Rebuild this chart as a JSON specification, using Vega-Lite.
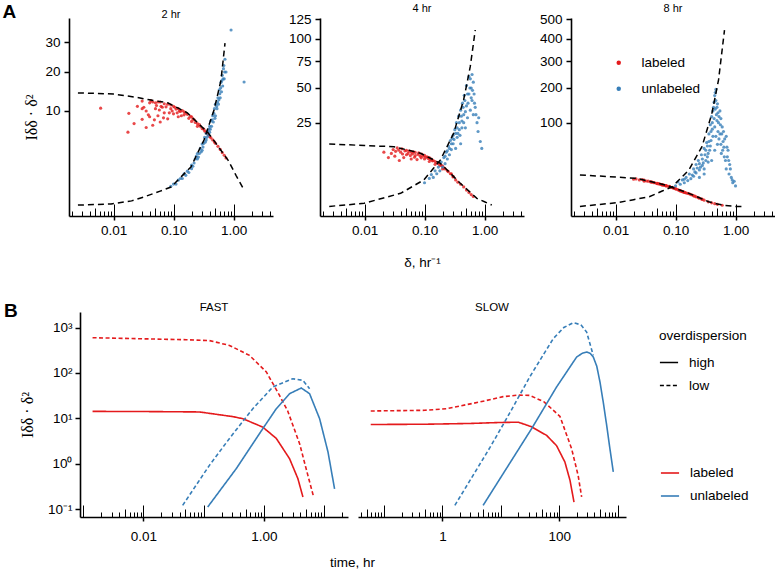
{
"$schema": "https://vega.github.io/schema/vega-lite/v6.json",
"background": "white",
"padding": {"left": 2, "top": 3, "right": 0, "bottom": 0},
"config": {
  "font": "Liberation Sans",
  "view": {"stroke": null},
  "axis": {"grid": false, "domainColor": "black", "tickColor": "black", "labelColor": "black", "titleColor": "black", "labelFont": "Liberation Sans", "titleFont": "Liberation Sans", "labelFontSize": 13.5, "titleFontSize": 13.5, "titleFontWeight": "normal"},
  "title": {"fontSize": 11, "fontWeight": "normal", "offset": -2, "color": "black", "font": "Liberation Sans"},
  "legend": {"labelFont": "Liberation Sans", "titleFont": "Liberation Sans", "labelColor": "black", "titleColor": "black", "labelFontSize": 13.5, "titleFontSize": 13.5, "titleFontWeight": "normal"}
},
"datasets": {
"pts2": [
{"g":"labeled","d":0.018,"v":9.5},{"g":"labeled","d":0.022,"v":7.5},{"g":"labeled","d":0.025,"v":11.0},{"g":"labeled","d":0.03,"v":8.3},{"g":"labeled","d":0.03,"v":12.2},{"g":"labeled","d":0.035,"v":10.0},{"g":"labeled","d":0.035,"v":6.8},{"g":"labeled","d":0.04,"v":11.8},{"g":"labeled","d":0.04,"v":8.8},{"g":"labeled","d":0.045,"v":12.0},{"g":"labeled","d":0.045,"v":7.2},{"g":"labeled","d":0.05,"v":10.5},{"g":"labeled","d":0.05,"v":11.8},{"g":"labeled","d":0.055,"v":9.0},{"g":"labeled","d":0.06,"v":12.0},{"g":"labeled","d":0.06,"v":7.8},{"g":"labeled","d":0.065,"v":10.8},{"g":"labeled","d":0.07,"v":11.6},{"g":"labeled","d":0.07,"v":9.6},{"g":"labeled","d":0.08,"v":11.5},{"g":"labeled","d":0.08,"v":8.4},{"g":"labeled","d":0.09,"v":10.5},{"g":"labeled","d":0.09,"v":11.3},{"g":"labeled","d":0.1,"v":9.4},{"g":"labeled","d":0.1,"v":11.0},{"g":"labeled","d":0.11,"v":10.4},{"g":"labeled","d":0.12,"v":10.5},{"g":"labeled","d":0.12,"v":8.8},{"g":"labeled","d":0.13,"v":9.9},{"g":"labeled","d":0.14,"v":10.1},{"g":"labeled","d":0.15,"v":9.2},{"g":"labeled","d":0.15,"v":9.8},{"g":"labeled","d":0.17,"v":9.3},{"g":"labeled","d":0.18,"v":8.5},{"g":"labeled","d":0.2,"v":8.8},{"g":"labeled","d":0.2,"v":7.9},{"g":"labeled","d":0.22,"v":8.2},{"g":"labeled","d":0.25,"v":7.5},{"g":"labeled","d":0.25,"v":7.0},{"g":"labeled","d":0.28,"v":7.0},{"g":"labeled","d":0.3,"v":6.6},{"g":"labeled","d":0.32,"v":6.5},{"g":"labeled","d":0.35,"v":6.0},{"g":"labeled","d":0.38,"v":5.6},{"g":"labeled","d":0.4,"v":5.3},{"g":"labeled","d":0.45,"v":4.8},{"g":"labeled","d":0.5,"v":4.3},{"g":"labeled","d":0.55,"v":3.9},{"g":"labeled","d":0.6,"v":3.5},{"g":"labeled","d":0.65,"v":3.1},{"g":"labeled","d":0.7,"v":2.8},{"g":"labeled","d":0.75,"v":2.5},{"g":"labeled","d":0.0061,"v":10.6},{"g":"labeled","d":0.0174,"v":6.0},
{"g":"labeled","d":0.032,"v":10.8},{"g":"labeled","d":0.038,"v":9.2},{"g":"labeled","d":0.042,"v":12.3},{"g":"labeled","d":0.048,"v":8.2},{"g":"labeled","d":0.052,"v":11.2},{"g":"labeled","d":0.058,"v":10.2},{"g":"labeled","d":0.062,"v":11.0},{"g":"labeled","d":0.068,"v":8.6},{"g":"labeled","d":0.075,"v":10.9},{"g":"labeled","d":0.085,"v":9.6},{"g":"labeled","d":0.095,"v":10.0},{"g":"labeled","d":0.105,"v":10.8},{"g":"labeled","d":0.115,"v":9.6},{"g":"labeled","d":0.125,"v":10.0},{"g":"labeled","d":0.135,"v":9.0},{"g":"labeled","d":0.16,"v":9.6},{"g":"labeled","d":0.19,"v":8.9},{"g":"labeled","d":0.21,"v":8.4},{"g":"labeled","d":0.23,"v":7.7},{"g":"labeled","d":0.27,"v":7.3},{"g":"labeled","d":0.33,"v":6.2},{"g":"labeled","d":0.36,"v":5.9},{"g":"labeled","d":0.42,"v":5.1},{"g":"labeled","d":0.48,"v":4.5},{"g":"labeled","d":0.03,"v":10.5},{"g":"labeled","d":0.055,"v":12.0},
{"g":"unlabeled","d":0.09,"v":0.4},{"g":"unlabeled","d":0.1,"v":0.5},{"g":"unlabeled","d":0.11,"v":0.5},{"g":"unlabeled","d":0.12,"v":0.7},{"g":"unlabeled","d":0.13,"v":0.8},{"g":"unlabeled","d":0.14,"v":0.8},{"g":"unlabeled","d":0.15,"v":1.1},{"g":"unlabeled","d":0.16,"v":1.0},{"g":"unlabeled","d":0.17,"v":1.3},{"g":"unlabeled","d":0.18,"v":1.2},{"g":"unlabeled","d":0.2,"v":1.8},{"g":"unlabeled","d":0.2,"v":1.5},{"g":"unlabeled","d":0.22,"v":2.0},{"g":"unlabeled","d":0.23,"v":2.4},{"g":"unlabeled","d":0.25,"v":2.4},{"g":"unlabeled","d":0.25,"v":3.0},{"g":"unlabeled","d":0.27,"v":3.0},{"g":"unlabeled","d":0.28,"v":3.6},{"g":"unlabeled","d":0.3,"v":3.4},{"g":"unlabeled","d":0.3,"v":4.2},{"g":"unlabeled","d":0.32,"v":4.3},{"g":"unlabeled","d":0.33,"v":5.2},{"g":"unlabeled","d":0.35,"v":4.8},{"g":"unlabeled","d":0.35,"v":5.8},{"g":"unlabeled","d":0.37,"v":6.2},{"g":"unlabeled","d":0.38,"v":5.5},{"g":"unlabeled","d":0.4,"v":7.0},{"g":"unlabeled","d":0.4,"v":6.0},{"g":"unlabeled","d":0.42,"v":8.0},{"g":"unlabeled","d":0.43,"v":7.0},{"g":"unlabeled","d":0.45,"v":9.0},{"g":"unlabeled","d":0.46,"v":7.8},{"g":"unlabeled","d":0.48,"v":10.5},{"g":"unlabeled","d":0.5,"v":9.0},{"g":"unlabeled","d":0.5,"v":11.5},{"g":"unlabeled","d":0.53,"v":10.5},{"g":"unlabeled","d":0.55,"v":13.0},{"g":"unlabeled","d":0.56,"v":11.5},{"g":"unlabeled","d":0.58,"v":15.0},{"g":"unlabeled","d":0.6,"v":13.0},{"g":"unlabeled","d":0.62,"v":17.0},{"g":"unlabeled","d":0.63,"v":14.5},{"g":"unlabeled","d":0.65,"v":19.0},{"g":"unlabeled","d":0.66,"v":16.0},{"g":"unlabeled","d":0.68,"v":21.0},{"g":"unlabeled","d":0.7,"v":18.0},{"g":"unlabeled","d":0.72,"v":24.0},{"g":"unlabeled","d":0.75,"v":20.0},{"g":"unlabeled","d":0.91,"v":34.6},{"g":"unlabeled","d":1.5,"v":17.1},
{"g":"unlabeled","d":0.21,"v":1.7},{"g":"unlabeled","d":0.24,"v":2.7},{"g":"unlabeled","d":0.26,"v":2.6},{"g":"unlabeled","d":0.29,"v":3.2},{"g":"unlabeled","d":0.31,"v":3.8},{"g":"unlabeled","d":0.34,"v":4.5},{"g":"unlabeled","d":0.36,"v":5.2},{"g":"unlabeled","d":0.39,"v":6.5},{"g":"unlabeled","d":0.41,"v":6.5},{"g":"unlabeled","d":0.44,"v":8.2},{"g":"unlabeled","d":0.47,"v":9.5},{"g":"unlabeled","d":0.49,"v":8.5},{"g":"unlabeled","d":0.52,"v":11.0},{"g":"unlabeled","d":0.54,"v":12.0},{"g":"unlabeled","d":0.57,"v":12.5},{"g":"unlabeled","d":0.59,"v":14.0},{"g":"unlabeled","d":0.61,"v":15.5},{"g":"unlabeled","d":0.64,"v":17.5},{"g":"unlabeled","d":0.67,"v":18.0},{"g":"unlabeled","d":0.69,"v":22.0},{"g":"unlabeled","d":0.71,"v":20.0}
],
"pts4": [
{"g":"labeled","d":0.021,"v":10.5},{"g":"labeled","d":0.025,"v":8.5},{"g":"labeled","d":0.03,"v":11.5},{"g":"labeled","d":0.032,"v":9.0},{"g":"labeled","d":0.035,"v":12.2},{"g":"labeled","d":0.038,"v":7.5},{"g":"labeled","d":0.04,"v":10.5},{"g":"labeled","d":0.042,"v":11.8},{"g":"labeled","d":0.045,"v":8.5},{"g":"labeled","d":0.05,"v":11.2},{"g":"labeled","d":0.05,"v":9.5},{"g":"labeled","d":0.055,"v":10.9},{"g":"labeled","d":0.06,"v":8.0},{"g":"labeled","d":0.06,"v":10.5},{"g":"labeled","d":0.065,"v":10.6},{"g":"labeled","d":0.07,"v":9.2},{"g":"labeled","d":0.07,"v":10.4},{"g":"labeled","d":0.075,"v":7.8},{"g":"labeled","d":0.08,"v":10.2},{"g":"labeled","d":0.085,"v":9.0},{"g":"labeled","d":0.09,"v":9.8},{"g":"labeled","d":0.1,"v":9.3},{"g":"labeled","d":0.1,"v":8.0},{"g":"labeled","d":0.11,"v":8.8},{"g":"labeled","d":0.12,"v":8.5},{"g":"labeled","d":0.12,"v":7.2},{"g":"labeled","d":0.13,"v":8.0},{"g":"labeled","d":0.14,"v":7.5},{"g":"labeled","d":0.15,"v":7.2},{"g":"labeled","d":0.15,"v":6.3},{"g":"labeled","d":0.17,"v":6.6},{"g":"labeled","d":0.18,"v":6.0},{"g":"labeled","d":0.2,"v":5.8},{"g":"labeled","d":0.2,"v":5.0},{"g":"labeled","d":0.22,"v":5.0},{"g":"labeled","d":0.25,"v":4.3},{"g":"labeled","d":0.28,"v":3.8},{"g":"labeled","d":0.3,"v":3.1},{"g":"labeled","d":0.33,"v":2.5},{"g":"labeled","d":0.36,"v":2.1},{"g":"labeled","d":0.4,"v":1.75},{"g":"labeled","d":0.45,"v":1.35},{"g":"labeled","d":0.5,"v":0.95},{"g":"labeled","d":0.55,"v":0.7},{"g":"labeled","d":0.6,"v":0.5},{"g":"labeled","d":0.65,"v":0.35},
{"g":"labeled","d":0.028,"v":10.0},{"g":"labeled","d":0.033,"v":10.8},{"g":"labeled","d":0.037,"v":11.3},{"g":"labeled","d":0.043,"v":9.8},{"g":"labeled","d":0.047,"v":11.0},{"g":"labeled","d":0.053,"v":10.0},{"g":"labeled","d":0.058,"v":9.2},{"g":"labeled","d":0.063,"v":9.8},{"g":"labeled","d":0.068,"v":8.6},{"g":"labeled","d":0.078,"v":9.6},{"g":"labeled","d":0.088,"v":8.4},{"g":"labeled","d":0.095,"v":9.0},{"g":"labeled","d":0.105,"v":8.6},{"g":"labeled","d":0.115,"v":8.2},{"g":"labeled","d":0.125,"v":7.8},{"g":"labeled","d":0.135,"v":7.4},{"g":"labeled","d":0.16,"v":6.8},{"g":"labeled","d":0.19,"v":6.0},{"g":"labeled","d":0.21,"v":5.3},{"g":"labeled","d":0.24,"v":4.5},{"g":"labeled","d":0.27,"v":3.8},{"g":"labeled","d":0.3,"v":3.2},
{"g":"unlabeled","d":0.1,"v":2.0},{"g":"unlabeled","d":0.12,"v":2.8},{"g":"unlabeled","d":0.13,"v":3.6},{"g":"unlabeled","d":0.14,"v":3.0},{"g":"unlabeled","d":0.15,"v":4.5},{"g":"unlabeled","d":0.16,"v":3.8},{"g":"unlabeled","d":0.17,"v":5.5},{"g":"unlabeled","d":0.18,"v":4.5},{"g":"unlabeled","d":0.19,"v":7.0},{"g":"unlabeled","d":0.2,"v":5.5},{"g":"unlabeled","d":0.21,"v":8.5},{"g":"unlabeled","d":0.22,"v":6.5},{"g":"unlabeled","d":0.23,"v":10.5},{"g":"unlabeled","d":0.24,"v":8.0},{"g":"unlabeled","d":0.25,"v":13.0},{"g":"unlabeled","d":0.26,"v":9.5},{"g":"unlabeled","d":0.27,"v":15.5},{"g":"unlabeled","d":0.28,"v":11.5},{"g":"unlabeled","d":0.3,"v":18.0},{"g":"unlabeled","d":0.3,"v":14.0},{"g":"unlabeled","d":0.32,"v":21.0},{"g":"unlabeled","d":0.33,"v":12.0},{"g":"unlabeled","d":0.34,"v":25.0},{"g":"unlabeled","d":0.35,"v":17.0},{"g":"unlabeled","d":0.37,"v":29.0},{"g":"unlabeled","d":0.38,"v":21.0},{"g":"unlabeled","d":0.4,"v":33.0},{"g":"unlabeled","d":0.4,"v":14.0},{"g":"unlabeled","d":0.42,"v":26.0},{"g":"unlabeled","d":0.43,"v":38.0},{"g":"unlabeled","d":0.45,"v":30.0},{"g":"unlabeled","d":0.46,"v":44.0},{"g":"unlabeled","d":0.48,"v":22.0},{"g":"unlabeled","d":0.5,"v":36.0},{"g":"unlabeled","d":0.5,"v":52.0},{"g":"unlabeled","d":0.52,"v":28.0},{"g":"unlabeled","d":0.55,"v":45.0},{"g":"unlabeled","d":0.55,"v":60.0},{"g":"unlabeled","d":0.58,"v":33.0},{"g":"unlabeled","d":0.6,"v":50.0},{"g":"unlabeled","d":0.62,"v":40.0},{"g":"unlabeled","d":0.65,"v":30.0},{"g":"unlabeled","d":0.65,"v":55.0},{"g":"unlabeled","d":0.7,"v":35.0},{"g":"unlabeled","d":0.75,"v":25.0},{"g":"unlabeled","d":0.85,"v":15.0},
{"g":"unlabeled","d":0.22,"v":9.0},{"g":"unlabeled","d":0.24,"v":11.0},{"g":"unlabeled","d":0.26,"v":12.0},{"g":"unlabeled","d":0.28,"v":14.0},{"g":"unlabeled","d":0.29,"v":16.5},{"g":"unlabeled","d":0.31,"v":16.0},{"g":"unlabeled","d":0.33,"v":19.0},{"g":"unlabeled","d":0.35,"v":22.0},{"g":"unlabeled","d":0.36,"v":19.0},{"g":"unlabeled","d":0.38,"v":25.0},{"g":"unlabeled","d":0.39,"v":18.0},{"g":"unlabeled","d":0.41,"v":29.0},{"g":"unlabeled","d":0.42,"v":22.0},{"g":"unlabeled","d":0.44,"v":35.0},{"g":"unlabeled","d":0.45,"v":25.0},{"g":"unlabeled","d":0.47,"v":40.0},{"g":"unlabeled","d":0.48,"v":32.0},{"g":"unlabeled","d":0.52,"v":45.0},{"g":"unlabeled","d":0.53,"v":38.0},{"g":"unlabeled","d":0.57,"v":50.0},{"g":"unlabeled","d":0.58,"v":58.0},{"g":"unlabeled","d":0.6,"v":42.0},{"g":"unlabeled","d":0.62,"v":62.0},{"g":"unlabeled","d":0.63,"v":48.0},{"g":"unlabeled","d":0.67,"v":45.0},{"g":"unlabeled","d":0.68,"v":38.0},{"g":"unlabeled","d":0.72,"v":30.0},{"g":"unlabeled","d":0.78,"v":20.0},{"g":"unlabeled","d":0.8,"v":28.0},{"g":"unlabeled","d":0.9,"v":12.0}
],
"pts8": [
{"g":"labeled","d":0.02,"v":10.5},{"g":"labeled","d":0.025,"v":10.0},{"g":"labeled","d":0.03,"v":9.0},{"g":"labeled","d":0.03,"v":9.8},{"g":"labeled","d":0.035,"v":9.1},{"g":"labeled","d":0.04,"v":8.3},{"g":"labeled","d":0.04,"v":8.6},{"g":"labeled","d":0.045,"v":8.0},{"g":"labeled","d":0.05,"v":7.6},{"g":"labeled","d":0.05,"v":7.4},{"g":"labeled","d":0.055,"v":7.1},{"g":"labeled","d":0.06,"v":6.8},{"g":"labeled","d":0.06,"v":6.5},{"g":"labeled","d":0.065,"v":6.4},{"g":"labeled","d":0.07,"v":6.2},{"g":"labeled","d":0.07,"v":6.0},{"g":"labeled","d":0.08,"v":5.5},{"g":"labeled","d":0.08,"v":5.7},{"g":"labeled","d":0.09,"v":4.9},{"g":"labeled","d":0.09,"v":5.1},{"g":"labeled","d":0.1,"v":4.4},{"g":"labeled","d":0.1,"v":4.5},{"g":"labeled","d":0.11,"v":3.9},{"g":"labeled","d":0.12,"v":3.4},{"g":"labeled","d":0.12,"v":3.5},{"g":"labeled","d":0.13,"v":3.1},{"g":"labeled","d":0.14,"v":2.8},{"g":"labeled","d":0.15,"v":2.55},{"g":"labeled","d":0.16,"v":2.4},{"g":"labeled","d":0.18,"v":2.0},{"g":"labeled","d":0.2,"v":1.6},{"g":"labeled","d":0.22,"v":1.3},{"g":"labeled","d":0.25,"v":0.95},{"g":"labeled","d":0.28,"v":0.7},{"g":"labeled","d":0.3,"v":0.55},{"g":"labeled","d":0.35,"v":0.3},{"g":"labeled","d":0.4,"v":0.18},{"g":"labeled","d":0.45,"v":0.11},{"g":"labeled","d":0.5,"v":0.06},{"g":"labeled","d":0.6,"v":0.02},
{"g":"labeled","d":0.022,"v":10.8},{"g":"labeled","d":0.028,"v":10.3},{"g":"labeled","d":0.033,"v":9.2},{"g":"labeled","d":0.038,"v":8.6},{"g":"labeled","d":0.043,"v":8.1},{"g":"labeled","d":0.048,"v":7.6},{"g":"labeled","d":0.053,"v":7.2},{"g":"labeled","d":0.058,"v":6.8},{"g":"labeled","d":0.063,"v":6.5},{"g":"labeled","d":0.068,"v":6.2},{"g":"labeled","d":0.075,"v":5.8},{"g":"labeled","d":0.085,"v":5.1},{"g":"labeled","d":0.095,"v":4.6},{"g":"labeled","d":0.105,"v":4.2},{"g":"labeled","d":0.115,"v":3.7},{"g":"labeled","d":0.125,"v":3.35},{"g":"labeled","d":0.135,"v":3.0},{"g":"labeled","d":0.145,"v":2.75},{"g":"labeled","d":0.17,"v":2.25},{"g":"labeled","d":0.19,"v":1.85},{"g":"labeled","d":0.21,"v":1.5},{"g":"labeled","d":0.24,"v":1.1},{"g":"labeled","d":0.27,"v":0.8},
{"g":"unlabeled","d":0.1,"v":6.0},{"g":"unlabeled","d":0.11,"v":8.5},{"g":"unlabeled","d":0.12,"v":7.0},{"g":"unlabeled","d":0.13,"v":10.0},{"g":"unlabeled","d":0.14,"v":8.0},{"g":"unlabeled","d":0.15,"v":12.0},{"g":"unlabeled","d":0.16,"v":9.5},{"g":"unlabeled","d":0.17,"v":15.0},{"g":"unlabeled","d":0.18,"v":11.0},{"g":"unlabeled","d":0.2,"v":20.0},{"g":"unlabeled","d":0.2,"v":13.0},{"g":"unlabeled","d":0.22,"v":25.0},{"g":"unlabeled","d":0.22,"v":16.0},{"g":"unlabeled","d":0.24,"v":30.0},{"g":"unlabeled","d":0.25,"v":19.0},{"g":"unlabeled","d":0.27,"v":38.0},{"g":"unlabeled","d":0.28,"v":24.0},{"g":"unlabeled","d":0.3,"v":48.0},{"g":"unlabeled","d":0.3,"v":15.0},{"g":"unlabeled","d":0.32,"v":30.0},{"g":"unlabeled","d":0.33,"v":58.0},{"g":"unlabeled","d":0.35,"v":40.0},{"g":"unlabeled","d":0.36,"v":75.0},{"g":"unlabeled","d":0.38,"v":52.0},{"g":"unlabeled","d":0.38,"v":95.0},{"g":"unlabeled","d":0.4,"v":30.0},{"g":"unlabeled","d":0.4,"v":115.0},{"g":"unlabeled","d":0.42,"v":70.0},{"g":"unlabeled","d":0.43,"v":140.0},{"g":"unlabeled","d":0.45,"v":90.0},{"g":"unlabeled","d":0.45,"v":175.0},{"g":"unlabeled","d":0.47,"v":195.0},{"g":"unlabeled","d":0.48,"v":120.0},{"g":"unlabeled","d":0.5,"v":55.0},{"g":"unlabeled","d":0.5,"v":150.0},{"g":"unlabeled","d":0.52,"v":100.0},{"g":"unlabeled","d":0.55,"v":75.0},{"g":"unlabeled","d":0.55,"v":130.0},{"g":"unlabeled","d":0.58,"v":40.0},{"g":"unlabeled","d":0.6,"v":90.0},{"g":"unlabeled","d":0.62,"v":60.0},{"g":"unlabeled","d":0.65,"v":35.0},{"g":"unlabeled","d":0.7,"v":70.0},{"g":"unlabeled","d":0.7,"v":20.0},{"g":"unlabeled","d":0.75,"v":45.0},{"g":"unlabeled","d":0.8,"v":25.0},{"g":"unlabeled","d":0.85,"v":12.0},{"g":"unlabeled","d":0.9,"v":8.0},{"g":"unlabeled","d":1.0,"v":6.0},
{"g":"unlabeled","d":0.14,"v":10.5},{"g":"unlabeled","d":0.19,"v":14.0},{"g":"unlabeled","d":0.21,"v":17.0},{"g":"unlabeled","d":0.23,"v":21.0},{"g":"unlabeled","d":0.25,"v":26.0},{"g":"unlabeled","d":0.26,"v":22.0},{"g":"unlabeled","d":0.28,"v":32.0},{"g":"unlabeled","d":0.29,"v":27.0},{"g":"unlabeled","d":0.31,"v":38.0},{"g":"unlabeled","d":0.32,"v":45.0},{"g":"unlabeled","d":0.34,"v":52.0},{"g":"unlabeled","d":0.34,"v":35.0},{"g":"unlabeled","d":0.36,"v":60.0},{"g":"unlabeled","d":0.37,"v":45.0},{"g":"unlabeled","d":0.39,"v":80.0},{"g":"unlabeled","d":0.39,"v":62.0},{"g":"unlabeled","d":0.41,"v":100.0},{"g":"unlabeled","d":0.41,"v":85.0},{"g":"unlabeled","d":0.42,"v":130.0},{"g":"unlabeled","d":0.44,"v":110.0},{"g":"unlabeled","d":0.44,"v":155.0},{"g":"unlabeled","d":0.46,"v":135.0},{"g":"unlabeled","d":0.46,"v":185.0},{"g":"unlabeled","d":0.47,"v":160.0},{"g":"unlabeled","d":0.49,"v":140.0},{"g":"unlabeled","d":0.49,"v":105.0},{"g":"unlabeled","d":0.51,"v":125.0},{"g":"unlabeled","d":0.51,"v":80.0},{"g":"unlabeled","d":0.53,"v":115.0},{"g":"unlabeled","d":0.53,"v":65.0},{"g":"unlabeled","d":0.56,"v":95.0},{"g":"unlabeled","d":0.57,"v":110.0},{"g":"unlabeled","d":0.57,"v":55.0},{"g":"unlabeled","d":0.59,"v":75.0},{"g":"unlabeled","d":0.61,"v":45.0},{"g":"unlabeled","d":0.63,"v":80.0},{"g":"unlabeled","d":0.64,"v":50.0},{"g":"unlabeled","d":0.66,"v":65.0},{"g":"unlabeled","d":0.68,"v":30.0},{"g":"unlabeled","d":0.72,"v":50.0},{"g":"unlabeled","d":0.73,"v":35.0},{"g":"unlabeled","d":0.77,"v":30.0},{"g":"unlabeled","d":0.78,"v":15.0},{"g":"unlabeled","d":0.82,"v":20.0},{"g":"unlabeled","d":0.88,"v":10.0},{"g":"unlabeled","d":0.95,"v":9.0},{"g":"unlabeled","d":0.25,"v":12.0},{"g":"unlabeled","d":0.3,"v":20.0},{"g":"unlabeled","d":0.35,"v":28.0},{"g":"unlabeled","d":0.45,"v":45.0},{"g":"unlabeled","d":0.47,"v":70.0}
],
"c2": [
{"g":"labeled","d":0.00255,"v":14.2},{"g":"labeled","d":0.005,"v":14.1},{"g":"labeled","d":0.01,"v":13.9},{"g":"labeled","d":0.022,"v":13.2},{"g":"labeled","d":0.04,"v":12.5},{"g":"labeled","d":0.08,"v":11.8},{"g":"labeled","d":0.12,"v":10.6},{"g":"labeled","d":0.17,"v":9.6},{"g":"labeled","d":0.25,"v":7.7},{"g":"labeled","d":0.376,"v":5.9},{"g":"labeled","d":0.5,"v":4.4},{"g":"labeled","d":0.65,"v":3.15},{"g":"labeled","d":0.81,"v":2.29},{"g":"labeled","d":1.1,"v":1.0},{"g":"labeled","d":1.5,"v":0.26},
{"g":"unlabeled","d":0.00255,"v":0},{"g":"unlabeled","d":0.0091,"v":0.0015},{"g":"unlabeled","d":0.02,"v":0.02},{"g":"unlabeled","d":0.032,"v":0.074},{"g":"unlabeled","d":0.06,"v":0.22},{"g":"unlabeled","d":0.091,"v":0.37},{"g":"unlabeled","d":0.14,"v":0.98},{"g":"unlabeled","d":0.195,"v":1.64},{"g":"unlabeled","d":0.26,"v":3.25},{"g":"unlabeled","d":0.322,"v":4.78},{"g":"unlabeled","d":0.4,"v":7.6},{"g":"unlabeled","d":0.473,"v":10.2},{"g":"unlabeled","d":0.55,"v":14.1},{"g":"unlabeled","d":0.618,"v":17.6},{"g":"unlabeled","d":0.67,"v":23.5},{"g":"unlabeled","d":0.721,"v":29.6}
],
"c4": [
{"g":"labeled","d":0.00258,"v":13.9},{"g":"labeled","d":0.01,"v":13.2},{"g":"labeled","d":0.0309,"v":12.7},{"g":"labeled","d":0.055,"v":11.2},{"g":"labeled","d":0.0857,"v":10.05},{"g":"labeled","d":0.13,"v":8.1},{"g":"labeled","d":0.184,"v":6.6},{"g":"labeled","d":0.27,"v":3.9},{"g":"labeled","d":0.394,"v":1.9},{"g":"labeled","d":0.55,"v":0.83},{"g":"labeled","d":0.746,"v":0.23},{"g":"labeled","d":1.0,"v":0.076},{"g":"labeled","d":1.32,"v":0.007},
{"g":"unlabeled","d":0.00258,"v":0},{"g":"unlabeled","d":0.00984,"v":0.034},{"g":"unlabeled","d":0.02,"v":0.24},{"g":"unlabeled","d":0.0399,"v":0.61},{"g":"unlabeled","d":0.0973,"v":2.5},{"g":"unlabeled","d":0.14,"v":5.1},{"g":"unlabeled","d":0.184,"v":7.7},{"g":"unlabeled","d":0.24,"v":13},{"g":"unlabeled","d":0.305,"v":19},{"g":"unlabeled","d":0.37,"v":28.7},{"g":"unlabeled","d":0.448,"v":40.4},{"g":"unlabeled","d":0.51,"v":54},{"g":"unlabeled","d":0.578,"v":69.6},{"g":"unlabeled","d":0.64,"v":90},{"g":"unlabeled","d":0.70,"v":110.9}
],
"c8": [
{"g":"labeled","d":0.00255,"v":14.1},{"g":"labeled","d":0.008,"v":12.6},{"g":"labeled","d":0.022,"v":11.3},{"g":"labeled","d":0.04,"v":8.6},{"g":"labeled","d":0.0687,"v":6.5},{"g":"labeled","d":0.11,"v":4.1},{"g":"labeled","d":0.167,"v":2.44},{"g":"labeled","d":0.25,"v":1.06},{"g":"labeled","d":0.356,"v":0.31},{"g":"labeled","d":0.5,"v":0.08},{"g":"labeled","d":0.671,"v":0.01},{"g":"labeled","d":1.0,"v":0.0},{"g":"labeled","d":1.35,"v":0.0},
{"g":"unlabeled","d":0.00255,"v":0},{"g":"unlabeled","d":0.0107,"v":0.2},{"g":"unlabeled","d":0.02,"v":0.65},{"g":"unlabeled","d":0.0365,"v":1.34},{"g":"unlabeled","d":0.06,"v":3.36},{"g":"unlabeled","d":0.0883,"v":5.5},{"g":"unlabeled","d":0.125,"v":11.8},{"g":"unlabeled","d":0.167,"v":18.9},{"g":"unlabeled","d":0.22,"v":34.6},{"g":"unlabeled","d":0.276,"v":50.8},{"g":"unlabeled","d":0.34,"v":86.5},{"g":"unlabeled","d":0.404,"v":123.6},{"g":"unlabeled","d":0.46,"v":172.7},{"g":"unlabeled","d":0.521,"v":228},{"g":"unlabeled","d":0.59,"v":336},{"g":"unlabeled","d":0.655,"v":443}
],
"fast": [
{"g":"labeled","o":"high","t":0.00144,"v":14.2},{"g":"labeled","o":"high","t":0.01,"v":14.1},{"g":"labeled","o":"high","t":0.0855,"v":13.8},{"g":"labeled","o":"high","t":0.305,"v":10.9},{"g":"labeled","o":"high","t":0.448,"v":9.8},{"g":"labeled","o":"high","t":0.96,"v":6.4},{"g":"labeled","o":"high","t":1.61,"v":3.6},{"g":"labeled","o":"high","t":2.67,"v":1.29},{"g":"labeled","o":"high","t":3.67,"v":0.47},{"g":"labeled","o":"high","t":4.45,"v":0.185},
{"g":"labeled","o":"low","t":0.00144,"v":596},{"g":"labeled","o":"low","t":0.0514,"v":538},{"g":"labeled","o":"low","t":0.125,"v":515},{"g":"labeled","o":"low","t":0.269,"v":403},{"g":"labeled","o":"low","t":0.578,"v":243},{"g":"labeled","o":"low","t":1.1,"v":105},{"g":"labeled","o":"low","t":1.82,"v":31.9},{"g":"labeled","o":"low","t":2.48,"v":14.7},{"g":"labeled","o":"low","t":3.92,"v":2.76},{"g":"labeled","o":"low","t":5.38,"v":0.552},{"g":"labeled","o":"low","t":6.7,"v":0.185},
{"g":"unlabeled","o":"high","t":0.117,"v":0.111},{"g":"unlabeled","o":"high","t":0.348,"v":0.776},{"g":"unlabeled","o":"high","t":0.96,"v":5.9},{"g":"unlabeled","o":"high","t":1.61,"v":16.3},{"g":"unlabeled","o":"high","t":2.67,"v":34.8},{"g":"unlabeled","o":"high","t":4.18,"v":46.5},{"g":"unlabeled","o":"high","t":5.74,"v":34.8},{"g":"unlabeled","o":"high","t":8.42,"v":9.8},{"g":"unlabeled","o":"high","t":11.6,"v":1.81},{"g":"unlabeled","o":"high","t":14.9,"v":0.28},
{"g":"unlabeled","o":"low","t":0.045,"v":0.121},{"g":"unlabeled","o":"low","t":0.125,"v":0.92},{"g":"unlabeled","o":"low","t":0.269,"v":3.6},{"g":"unlabeled","o":"low","t":0.656,"v":16.3},{"g":"unlabeled","o":"low","t":1.41,"v":48.9},{"g":"unlabeled","o":"low","t":3.03,"v":74.5},{"g":"unlabeled","o":"low","t":4.45,"v":68.4},{"g":"unlabeled","o":"low","t":5.74,"v":44.9}
],
"slow": [
{"g":"labeled","o":"high","t":0.059,"v":7.3},{"g":"labeled","o":"high","t":0.5,"v":7.4},{"g":"labeled","o":"high","t":3,"v":7.7},{"g":"labeled","o":"high","t":10,"v":8.1},{"g":"labeled","o":"high","t":20,"v":8.2},{"g":"labeled","o":"high","t":33.6,"v":6.5},{"g":"labeled","o":"high","t":60.8,"v":4.2},{"g":"labeled","o":"high","t":90,"v":2.5},{"g":"labeled","o":"high","t":125,"v":1.09},{"g":"labeled","o":"high","t":153,"v":0.43},{"g":"labeled","o":"high","t":179,"v":0.143},
{"g":"labeled","o":"low","t":0.059,"v":14.5},{"g":"labeled","o":"low","t":0.5,"v":15.0},{"g":"labeled","o":"low","t":1.17,"v":16.3},{"g":"labeled","o":"low","t":4.36,"v":22.9},{"g":"labeled","o":"low","t":10.9,"v":30},{"g":"labeled","o":"low","t":20,"v":32.5},{"g":"labeled","o":"low","t":31.4,"v":31.9},{"g":"labeled","o":"low","t":55,"v":23},{"g":"labeled","o":"low","t":103,"v":11},{"g":"labeled","o":"low","t":163,"v":2.14},{"g":"labeled","o":"low","t":211,"v":0.55},{"g":"labeled","o":"low","t":242,"v":0.185},
{"g":"unlabeled","o":"high","t":4.97,"v":0.121},{"g":"unlabeled","o":"high","t":33.6,"v":5.9},{"g":"unlabeled","o":"high","t":90,"v":48.9},{"g":"unlabeled","o":"high","t":199,"v":224},{"g":"unlabeled","o":"high","t":250,"v":272},{"g":"unlabeled","o":"high","t":295,"v":289},{"g":"unlabeled","o":"high","t":340,"v":270},{"g":"unlabeled","o":"high","t":383,"v":224},{"g":"unlabeled","o":"high","t":440,"v":140},{"g":"unlabeled","o":"high","t":499,"v":63},{"g":"unlabeled","o":"high","t":570,"v":22},{"g":"unlabeled","o":"high","t":650,"v":7.0},{"g":"unlabeled","o":"high","t":744,"v":2.0},{"g":"unlabeled","o":"high","t":844,"v":0.66},
{"g":"unlabeled","o":"low","t":1.63,"v":0.121},{"g":"unlabeled","o":"low","t":6.48,"v":2.25},{"g":"unlabeled","o":"low","t":14.3,"v":13.3},{"g":"unlabeled","o":"low","t":31.4,"v":82.5},{"g":"unlabeled","o":"low","t":78.9,"v":567},{"g":"unlabeled","o":"low","t":120,"v":1000},{"g":"unlabeled","o":"low","t":174,"v":1276},{"g":"unlabeled","o":"low","t":235,"v":1150},{"g":"unlabeled","o":"low","t":295,"v":795},{"g":"unlabeled","o":"low","t":383,"v":243}
]
},
"concat": [
{
 "title": {"text": "A", "orient": "left", "anchor": "end", "angle": 0, "align": "right", "baseline": "top", "fontSize": 19, "fontWeight": "bold", "offset": -7, "frame": "bounds"},
 "spacing": 47,
 "bounds": "flush",
 "resolve": {"legend": {"color": "independent"}},
 "hconcat": [
  {
   "width": 204, "height": 198,
   "title": {"text": "2 hr"},
   "resolve": {"axis": {"x": "independent"}},
   "layer": [
    {
     "data": {"name": "pts2"},
     "mark": {"type": "circle", "size": 10, "opacity": 0.8},
     "encoding": {
      "x": {"field": "d", "type": "quantitative", "scale": {"type": "log", "domain": [0.00181, 4.55], "nice": false}, "axis": {"orient": "bottom", "values": [0.01, 0.1, 1], "labelExpr": "format(datum.value, '.2f')", "tickSize": 4, "tickWidth": 1.5, "labelPadding": 3, "domainWidth": 1.6, "title": null}},
      "y": {"field": "v", "type": "quantitative", "scale": {"type": "sqrt", "domain": [-0.134, 39.5], "nice": false, "zero": false}, "axis": {"values": [10, 20, 30], "tickSize": 5, "tickWidth": 1.5, "labelPadding": 4, "domainWidth": 1.6, "title": "Iδδ · δ²", "titleFont": "Liberation Serif", "titleFontSize": 16, "titleX": -30, "titleY": 99}},
      "color": {"field": "g", "type": "nominal", "scale": {"domain": ["labeled", "unlabeled"], "range": ["#E41A1C", "#377EB8"]}, "legend": null}
     }
    },
    {
     "data": {"name": "c2"},
     "mark": {"type": "line", "color": "black", "strokeDash": [6, 4], "strokeWidth": 1.5},
     "encoding": {
      "x": {"field": "d", "type": "quantitative", "scale": {"type": "log", "domain": [0.00181, 4.55], "nice": false}, "axis": {"orient": "bottom", "values": [0.002,0.003,0.004,0.005,0.006,0.007,0.008,0.009,0.01,0.02,0.03,0.04,0.05,0.06,0.07,0.08,0.09,0.1,0.2,0.3,0.4,0.5,0.6,0.7,0.8,0.9,1,2,3,4], "labels": false, "domain": false, "title": null, "tickWidth": 1, "tickSize": {"expr": "indexof([0.001,0.01,0.1,1,10,100,1000], datum.value) >= 0 ? -12 : (indexof([0.005,0.05,0.5,5,50,500], datum.value) >= 0 ? -8 : -5)"}}},
      "y": {"field": "v", "type": "quantitative", "scale": {"type": "sqrt", "domain": [-0.134, 39.5], "nice": false, "zero": false}, "axis": {"values": [10, 20, 30], "tickSize": 5, "tickWidth": 1.5, "labelPadding": 4, "domainWidth": 1.6, "title": "Iδδ · δ²", "titleFont": "Liberation Serif", "titleFontSize": 16, "titleX": -30, "titleY": 99}},
      "detail": {"field": "g"}
     }
    }
   ]
  },
  {
   "width": 204, "height": 198,
   "title": {"text": "4 hr"},
   "resolve": {"axis": {"x": "independent"}},
   "layer": [
    {
     "data": {"name": "pts4"},
     "mark": {"type": "circle", "size": 10, "opacity": 0.8},
     "encoding": {
      "x": {"field": "d", "type": "quantitative", "scale": {"type": "log", "domain": [0.00181, 4.55], "nice": false}, "axis": {"orient": "bottom", "values": [0.01, 0.1, 1], "labelExpr": "format(datum.value, '.2f')", "tickSize": 4, "tickWidth": 1.5, "labelPadding": 3, "domainWidth": 1.6, "title": "δ, hr⁻¹", "titlePadding": 19}},
      "y": {"field": "v", "type": "quantitative", "scale": {"type": "sqrt", "domain": [-0.328, 126.5], "nice": false, "zero": false}, "axis": {"values": [25, 50, 75, 100, 125], "tickSize": 5, "tickWidth": 1.5, "labelPadding": 4, "domainWidth": 1.6, "title": null}},
      "color": {"field": "g", "type": "nominal", "scale": {"domain": ["labeled", "unlabeled"], "range": ["#E41A1C", "#377EB8"]}, "legend": null}
     }
    },
    {
     "data": {"name": "c4"},
     "mark": {"type": "line", "color": "black", "strokeDash": [6, 4], "strokeWidth": 1.5},
     "encoding": {
      "x": {"field": "d", "type": "quantitative", "scale": {"type": "log", "domain": [0.00181, 4.55], "nice": false}, "axis": {"orient": "bottom", "values": [0.002,0.003,0.004,0.005,0.006,0.007,0.008,0.009,0.01,0.02,0.03,0.04,0.05,0.06,0.07,0.08,0.09,0.1,0.2,0.3,0.4,0.5,0.6,0.7,0.8,0.9,1,2,3,4], "labels": false, "domain": false, "title": null, "tickWidth": 1, "tickSize": {"expr": "indexof([0.001,0.01,0.1,1,10,100,1000], datum.value) >= 0 ? -12 : (indexof([0.005,0.05,0.5,5,50,500], datum.value) >= 0 ? -8 : -5)"}}},
      "y": {"field": "v", "type": "quantitative", "scale": {"type": "sqrt", "domain": [-0.328, 126.5], "nice": false, "zero": false}, "axis": {"values": [25, 50, 75, 100, 125], "tickSize": 5, "tickWidth": 1.5, "labelPadding": 4, "domainWidth": 1.6, "title": null}},
      "detail": {"field": "g"}
     }
    }
   ]
  },
  {
   "width": 204, "height": 198,
   "title": {"text": "8 hr"},
   "resolve": {"axis": {"x": "independent"}},
   "layer": [
    {
     "data": {"name": "pts8"},
     "mark": {"type": "circle", "size": 10, "opacity": 0.8},
     "encoding": {
      "x": {"field": "d", "type": "quantitative", "scale": {"type": "log", "domain": [0.00181, 4.55], "nice": false}, "axis": {"orient": "bottom", "values": [0.01, 0.1, 1], "labelExpr": "format(datum.value, '.2f')", "tickSize": 4, "tickWidth": 1.5, "labelPadding": 3, "domainWidth": 1.6, "title": null}},
      "y": {"field": "v", "type": "quantitative", "scale": {"type": "sqrt", "domain": [-1.31, 506], "nice": false, "zero": false}, "axis": {"values": [100, 200, 300, 400, 500], "tickSize": 5, "tickWidth": 1.5, "labelPadding": 4, "domainWidth": 1.6, "title": null}},
      "color": {"field": "g", "type": "nominal", "scale": {"domain": ["labeled", "unlabeled"], "range": ["#E41A1C", "#377EB8"]}, "legend": {"title": null, "orient": "none", "legendX": 41, "legendY": 38, "padding": 0, "symbolType": "circle", "symbolSize": 20, "symbolOpacity": 1, "labelFontSize": 13.5, "rowPadding": 11, "labelOffset": 16}}
     }
    },
    {
     "data": {"name": "c8"},
     "mark": {"type": "line", "color": "black", "strokeDash": [6, 4], "strokeWidth": 1.5},
     "encoding": {
      "x": {"field": "d", "type": "quantitative", "scale": {"type": "log", "domain": [0.00181, 4.55], "nice": false}, "axis": {"orient": "bottom", "values": [0.002,0.003,0.004,0.005,0.006,0.007,0.008,0.009,0.01,0.02,0.03,0.04,0.05,0.06,0.07,0.08,0.09,0.1,0.2,0.3,0.4,0.5,0.6,0.7,0.8,0.9,1,2,3,4], "labels": false, "domain": false, "title": null, "tickWidth": 1, "tickSize": {"expr": "indexof([0.001,0.01,0.1,1,10,100,1000], datum.value) >= 0 ? -12 : (indexof([0.005,0.05,0.5,5,50,500], datum.value) >= 0 ? -8 : -5)"}}},
      "y": {"field": "v", "type": "quantitative", "scale": {"type": "sqrt", "domain": [-1.31, 506], "nice": false, "zero": false}, "axis": {"values": [100, 200, 300, 400, 500], "tickSize": 5, "tickWidth": 1.5, "labelPadding": 4, "domainWidth": 1.6, "title": null}},
      "detail": {"field": "g"}
     }
    }
   ]
  }
 ]
},
{
 "title": {"text": "B", "orient": "left", "anchor": "end", "angle": 0, "align": "right", "baseline": "top", "fontSize": 19, "fontWeight": "bold", "offset": -12, "frame": "bounds"},
 "spacing": 10,
 "bounds": "flush",
 "resolve": {"legend": {"color": "independent", "strokeDash": "independent"}},
 "hconcat": [
  {
   "width": 1, "height": 205,
   "data": {"values": [{}]},
   "mark": {"type": "point", "opacity": 0}
  },
  {
   "width": 268, "height": 205,
   "title": {"text": "FAST", "fontSize": 11.5, "offset": -1},
   "resolve": {"axis": {"x": "independent"}},
   "layer": [
    {
     "data": {"name": "fast"},
     "transform": [{"filter": "datum.g == 'labeled'"}],
     "mark": {"type": "line", "strokeWidth": 1.6},
     "encoding": {
      "x": {"field": "t", "type": "quantitative", "scale": {"type": "log", "domain": [0.000891, 24.9], "nice": false}, "axis": {"orient": "bottom", "values": [0.01, 1], "labelExpr": "format(datum.value, '.2f')", "tickSize": 4, "tickWidth": 1.5, "labelPadding": 8, "domainWidth": 1.6, "title": "time, hr", "titleX": 272, "titlePadding": 13}},
      "y": {"field": "v", "type": "quantitative", "scale": {"type": "log", "domain": [0.067, 2195], "nice": false}, "axis": {"values": [0.1, 1, 10, 100, 1000], "labelExpr": "['10⁻¹','10⁰','10¹','10²','10³'][round(log(datum.value)/LN10)+1]", "tickSize": 5, "tickWidth": 1.5, "labelPadding": 3, "domainWidth": 1.6, "title": "Iδδ · δ²", "titleFont": "Liberation Serif", "titleFontSize": 16, "titlePadding": 12}},
      "color": {"field": "g", "type": "nominal", "scale": {"domain": ["labeled", "unlabeled"], "range": ["#E41A1C", "#377EB8"]}, "legend": null},
      "strokeDash": {"field": "o", "type": "nominal", "scale": {"domain": ["high", "low"], "range": [[1, 0], [4, 2.5]]}, "legend": null}
     }
    },
    {
     "data": {"name": "fast"},
     "transform": [{"filter": "datum.g == 'unlabeled'"}],
     "mark": {"type": "line", "strokeWidth": 1.6},
     "encoding": {
      "x": {"field": "t", "type": "quantitative", "scale": {"type": "log", "domain": [0.000891, 24.9], "nice": false}, "axis": {"orient": "bottom", "values": [0.001,0.002,0.003,0.004,0.005,0.006,0.007,0.008,0.009,0.01,0.02,0.03,0.04,0.05,0.06,0.07,0.08,0.09,0.1,0.2,0.3,0.4,0.5,0.6,0.7,0.8,0.9,1,2,3,4,5,6,7,8,9,10,20], "labels": false, "domain": false, "title": null, "tickWidth": 1, "tickSize": {"expr": "indexof([0.001,0.01,0.1,1,10,100,1000], datum.value) >= 0 ? -12 : (indexof([0.005,0.05,0.5,5,50,500], datum.value) >= 0 ? -8 : -5)"}}},
      "y": {"field": "v", "type": "quantitative", "scale": {"type": "log", "domain": [0.067, 2195], "nice": false}, "axis": {"values": [0.1, 1, 10, 100, 1000], "labelExpr": "['10⁻¹','10⁰','10¹','10²','10³'][round(log(datum.value)/LN10)+1]", "tickSize": 5, "tickWidth": 1.5, "labelPadding": 3, "domainWidth": 1.6, "title": "Iδδ · δ²", "titleFont": "Liberation Serif", "titleFontSize": 16, "titlePadding": 12}},
      "color": {"field": "g", "type": "nominal", "scale": {"domain": ["labeled", "unlabeled"], "range": ["#E41A1C", "#377EB8"]}, "legend": null},
      "strokeDash": {"field": "o", "type": "nominal", "scale": {"domain": ["high", "low"], "range": [[1, 0], [4, 2.5]]}, "legend": null}
     }
    }
   ]
  },
  {
   "width": 268, "height": 205,
   "title": {"text": "SLOW", "fontSize": 11.5, "offset": -1},
   "resolve": {"axis": {"x": "independent"}},
   "layer": [
    {
     "data": {"name": "slow"},
     "transform": [{"filter": "datum.g == 'labeled'"}],
     "mark": {"type": "line", "strokeWidth": 1.6},
     "encoding": {
      "x": {"field": "t", "type": "quantitative", "scale": {"type": "log", "domain": [0.0357, 1393], "nice": false}, "axis": {"orient": "bottom", "values": [1, 100], "labelExpr": "format(datum.value, 'd')", "tickSize": 4, "tickWidth": 1.5, "labelPadding": 8, "domainWidth": 1.6, "title": null}},
      "y": {"field": "v", "type": "quantitative", "scale": {"type": "log", "domain": [0.067, 2195], "nice": false}, "axis": null},
      "color": {"field": "g", "type": "nominal", "scale": {"domain": ["labeled", "unlabeled"], "range": ["#E41A1C", "#377EB8"]}, "legend": {"title": null, "orient": "none", "legendX": 302, "legendY": 151, "padding": 0, "symbolType": "stroke", "symbolSize": 330, "symbolStrokeWidth": 1.6, "rowPadding": 6, "labelOffset": 10}},
      "strokeDash": {"field": "o", "type": "nominal", "scale": {"domain": ["high", "low"], "range": [[1, 0], [4, 2.5]]}, "legend": {"title": "overdispersion", "orient": "none", "legendX": 301, "legendY": 17, "padding": 0, "symbolType": "stroke", "symbolSize": 330, "symbolStrokeWidth": 1.6, "symbolStrokeColor": "black", "rowPadding": 6, "titlePadding": 10, "labelOffset": 10}}
     }
    },
    {
     "data": {"name": "slow"},
     "transform": [{"filter": "datum.g == 'unlabeled'"}],
     "mark": {"type": "line", "strokeWidth": 1.6},
     "encoding": {
      "x": {"field": "t", "type": "quantitative", "scale": {"type": "log", "domain": [0.0357, 1393], "nice": false}, "axis": {"orient": "bottom", "values": [0.04,0.05,0.06,0.07,0.08,0.09,0.1,0.2,0.3,0.4,0.5,0.6,0.7,0.8,0.9,1,2,3,4,5,6,7,8,9,10,20,30,40,50,60,70,80,90,100,200,300,400,500,600,700,800,900,1000], "labels": false, "domain": false, "title": null, "tickWidth": 1, "tickSize": {"expr": "indexof([0.001,0.01,0.1,1,10,100,1000], datum.value) >= 0 ? -12 : (indexof([0.005,0.05,0.5,5,50,500], datum.value) >= 0 ? -8 : -5)"}}},
      "y": {"field": "v", "type": "quantitative", "scale": {"type": "log", "domain": [0.067, 2195], "nice": false}, "axis": null},
      "color": {"field": "g", "type": "nominal", "scale": {"domain": ["labeled", "unlabeled"], "range": ["#E41A1C", "#377EB8"]}, "legend": {"title": null, "orient": "none", "legendX": 302, "legendY": 151, "padding": 0, "symbolType": "stroke", "symbolSize": 330, "symbolStrokeWidth": 1.6, "rowPadding": 6, "labelOffset": 10}},
      "strokeDash": {"field": "o", "type": "nominal", "scale": {"domain": ["high", "low"], "range": [[1, 0], [4, 2.5]]}, "legend": {"title": "overdispersion", "orient": "none", "legendX": 301, "legendY": 17, "padding": 0, "symbolType": "stroke", "symbolSize": 330, "symbolStrokeWidth": 1.6, "symbolStrokeColor": "black", "rowPadding": 6, "titlePadding": 10, "labelOffset": 10}}
     }
    }
   ]
  }
 ]
}
],
"columns": 1,
"align": "none",
"spacing": 32,
"resolve": {"legend": {"color": "independent", "strokeDash": "independent"}}
}
